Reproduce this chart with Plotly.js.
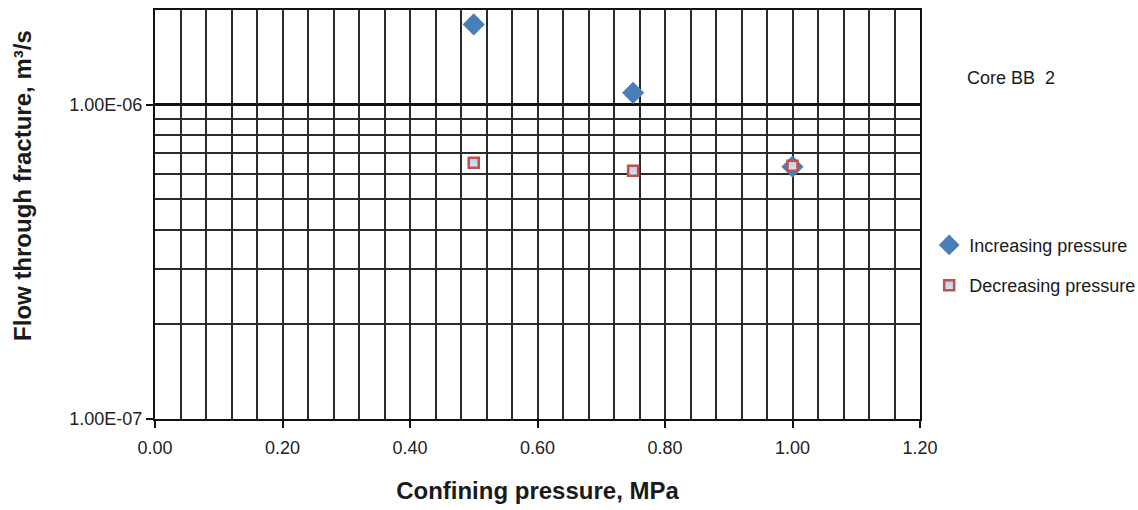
<!DOCTYPE html>
<html>
<head>
<meta charset="utf-8">
<script src="https://cdn.plot.ly/plotly-3.0.1.min.js"></script>
<style>html,body{margin:0;padding:0;background:#fff;} #chart{width:1138px;height:510px;}</style>
</head>
<body>
<div id="chart"></div>
<script>
// Data
const pressureIncreasing = [0.50, 0.75, 1.00];
const flowIncreasing = [1.80e-6, 1.09e-6, 6.35e-7];
const pressureDecreasing = [0.50, 0.75, 1.00];
const flowDecreasing = [6.53e-7, 6.16e-7, 6.39e-7];
const seriesNames = ["Increasing pressure", "Decreasing pressure"];
const yTickValues = [1e-7, 1e-6];
const yTickLabels = ["1.00E-07", "1.00E-06"];
const yMinorValues = [2e-7, 3e-7, 4e-7, 5e-7, 6e-7, 7e-7, 8e-7, 9e-7];
const xTitle = "Confining pressure, MPa";
const yTitle = "Flow through fracture, m\u00b3/s";
const coreLabel = "Core BB\u00a0 2";

const FONT = '"Liberation Sans", Arial, Helvetica, sans-serif';
const GRID = '#2a2a2a';

const traces = [
  {
    x: pressureIncreasing, y: flowIncreasing, name: seriesNames[0],
    type: 'scatter', mode: 'markers', legendgroup: 'a',
    marker: {symbol: 'diamond', size: 17, color: '#4a7ebb', line: {width: 0}}
  },
  {
    x: pressureDecreasing, y: flowDecreasing, name: seriesNames[1],
    type: 'scatter', mode: 'markers', legendgroup: 'b',
    marker: {symbol: 'square', size: 10, color: '#b9cde6',
      gradient: {type: 'vertical', color: '#dce6f2'},
      line: {width: 2.5, color: '#c0504d'}}
  }
];

const layout = {
  width: 1138, height: 510,
  margin: {l: 155, r: 218, t: 10, b: 91, autoexpand: false},
  paper_bgcolor: '#ffffff', plot_bgcolor: '#ffffff',
  font: {family: FONT, size: 18, color: '#1a1a1a'},
  showlegend: true,
  legend: {
    x: 1.012, xanchor: 'left', xref: 'paper',
    y: 0.47, yanchor: 'top',
    font: {family: FONT, size: 18, color: '#1a1a1a'},
    traceorder: 'grouped', tracegroupgap: 14,
    itemwidth: 30, bgcolor: 'rgba(0,0,0,0)', borderwidth: 0
  },
  xaxis: {
    range: [0, 1.2], dtick: 0.2, tick0: 0, tickformat: '.2f',
    ticks: 'outside', ticklen: 7, tickwidth: 2, tickcolor: '#111',
    ticklabelstandoff: 4,
    showgrid: true, gridcolor: GRID, gridwidth: 2,
    minor: {dtick: 0.04, tick0: 0, showgrid: true, gridcolor: GRID, gridwidth: 2, ticks: ''},
    showline: true, linecolor: '#111', linewidth: 2, mirror: true,
    zeroline: false, automargin: false,
    tickfont: {family: FONT, size: 18, color: '#222'},
    title: {text: xTitle, font: {family: FONT, size: 24, weight: 'bold', color: '#1a1a1a'}, standoff: 26}
  },
  yaxis: {
    type: 'log', range: [-7, Math.log10(2e-6)],
    tickmode: 'array', tickvals: yTickValues, ticktext: yTickLabels,
    ticks: 'outside', ticklen: 7, tickwidth: 2, tickcolor: '#111',
    showgrid: true, gridcolor: '#111', gridwidth: 2.5,
    minor: {tickmode: 'array', tickvals: yMinorValues, showgrid: true, gridcolor: GRID, gridwidth: 2, ticks: ''},
    showline: true, linecolor: '#111', linewidth: 2, mirror: true,
    zeroline: false, automargin: false,
    tickfont: {family: FONT, size: 18, color: '#222'}
  },
  annotations: [
    {
      text: yTitle, xref: 'paper', yref: 'paper',
      x: -0.174, y: 0.572, xanchor: 'center', yanchor: 'middle',
      textangle: -90, showarrow: false,
      font: {family: FONT, size: 24, weight: 'bold', color: '#1a1a1a'}
    },
    {
      text: coreLabel, xref: 'paper', yref: 'paper',
      x: 1.0588, y: 0.834, xanchor: 'left', yanchor: 'middle',
      showarrow: false,
      font: {family: FONT, size: 18, color: '#1a1a1a'}
    }
  ]
};

Plotly.newPlot('chart', traces, layout, {displayModeBar: false, staticPlot: true});
</script>
</body>
</html>
